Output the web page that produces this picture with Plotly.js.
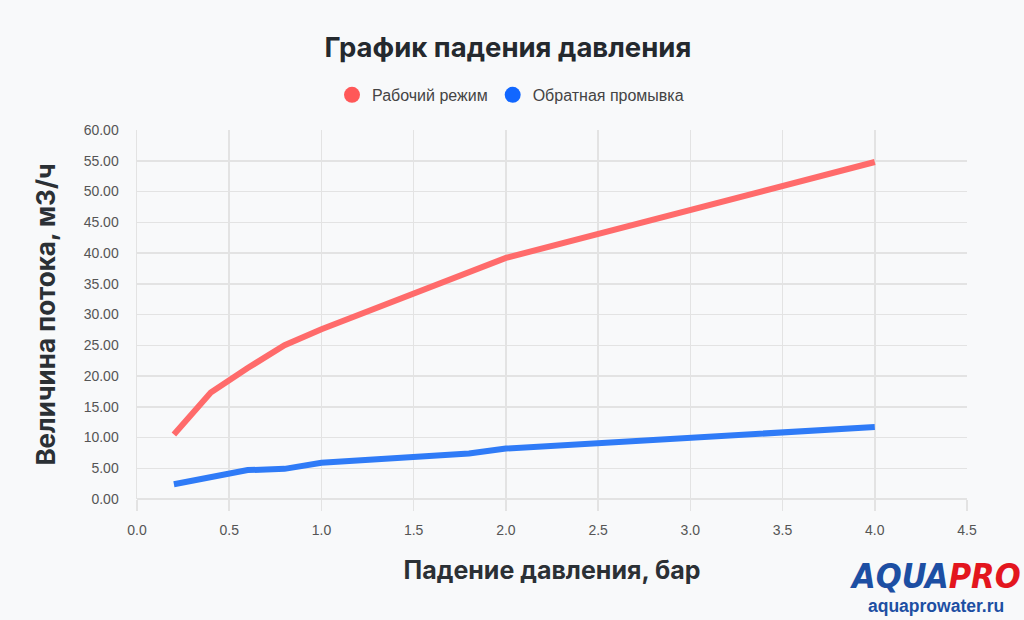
<!DOCTYPE html>
<html>
<head>
<meta charset="utf-8">
<script src="https://cdn.plot.ly/plotly-3.0.1.min.js"></script>
<style>
  html, body { margin: 0; padding: 0; background: #f8f9fa; }
  #chart { width: 1024px; height: 620px; }
</style>
</head>
<body>
<div id="chart"></div>
<script>
// pressure drop, bar
var pressure = [0.2, 0.4, 0.6, 0.8, 1.0, 1.8, 2.0, 4.0];
// flow in working mode, m3/h
var workFlow = [10.5, 17.3, 21.3, 25.0, 27.6, 37.0, 39.2, 54.8];
// flow in backwash mode, m3/h
var washFlow = [2.4, 3.6, 4.7, 4.9, 5.9, 7.4, 8.2, 11.7];

var seriesNames = ["Рабочий режим", "Обратная промывка"];
var xTicks = [0, 0.5, 1, 1.5, 2, 2.5, 3, 3.5, 4, 4.5];
var yTicks = [0, 5, 10, 15, 20, 25, 30, 35, 40, 45, 50, 55, 60];

function flow_chart(div_id) {
    var lineColors = ["#ff6b6b", "#2f7bf7"];
    var dotColors = ["#ff5858", "#1167ff"];

    var dataset = [
        {
            x: pressure,
            y: workFlow,
            type: "scatter",
            mode: "lines",
            line: { color: lineColors[0], width: 6 },
            showlegend: false,
        },
        {
            x: pressure,
            y: washFlow,
            type: "scatter",
            mode: "lines",
            line: { color: lineColors[1], width: 6 },
            showlegend: false,
        },
    ];

    // round legend dots, like the original chart
    seriesNames.forEach(function (name, i) {
        dataset.push({
            x: [null],
            y: [null],
            type: "scatter",
            mode: "markers",
            name: name,
            marker: { color: dotColors[i], size: 17 },
        });
    });

    var layout = {
        width: 1024,
        height: 620,
        paper_bgcolor: "#f8f9fa",
        plot_bgcolor: "#f8f9fa",
        margin: { l: 137, r: 57, t: 130, b: 121 },
        font: { family: "Liberation Sans, Arial, sans-serif", size: 14, color: "#555" },
        title: {
            text: "<b>График падения давления</b>",
            font: { family: "Inter, Roboto, sans-serif", size: 27.5, color: "#24292e" },
            x: 0.496,
            xref: "container",
            xanchor: "center",
            y: 0.924,
            yref: "container",
            yanchor: "middle",
        },
        legend: {
            orientation: "h",
            x: 0.45,
            xanchor: "center",
            y: 1.095,
            yanchor: "middle",
            font: { size: 16, color: "#444" },
            itemwidth: 30,
            bgcolor: "rgba(0,0,0,0)",
        },
        xaxis: {
            title: {
                text: "<b>Падение давления, бар</b>",
                font: { family: "Inter, Roboto, sans-serif", size: 25, color: "#2b3035" },
                standoff: 24,
            },
            range: [0, 4.5],
            tickvals: xTicks,
            tickformat: ".1f",
            ticks: "outside",
            ticklen: 11,
            tickcolor: "#e3e3e3",
            tickwidth: 1.5,
            showgrid: true,
            gridcolor: "#e3e3e3",
            gridwidth: 1.5,
            zeroline: false,
            showline: false,
            ticklabelstandoff: 7,
        },
        yaxis: {
            title: {
                text: "<b>Величина потока, м3/ч</b>",
                font: { family: "Inter, Roboto, sans-serif", size: 26, color: "#2b3035" },
                standoff: 20,
            },
            range: [0, 60],
            tickvals: yTicks,
            tickformat: ".2f",
            ticks: "",
            showgrid: true,
            gridcolor: "#e3e3e3",
            gridwidth: 1.5,
            zeroline: true,
            zerolinecolor: "#e3e3e3",
            zerolinewidth: 2,
            showline: true,
            linecolor: "#e3e3e3",
            linewidth: 1.5,
            ticklabelstandoff: 14,
        },
        annotations: [
            {
                text: "<b><i><span style='color:#1d4fa3'>AQUA</span><span style='color:#e3161e'>PRO</span></i></b>",
                xref: "paper",
                yref: "paper",
                x: 1.068,
                y: -0.208,
                xanchor: "right",
                yanchor: "middle",
                showarrow: false,
                font: { family: "DejaVu Sans Condensed, Liberation Sans, sans-serif", size: 34 },
            },
            {
                text: "<b>aquaprowater.ru</b>",
                xref: "paper",
                yref: "paper",
                x: 1.047,
                y: -0.29,
                xanchor: "right",
                yanchor: "middle",
                showarrow: false,
                font: { family: "Liberation Sans, sans-serif", size: 17.5, color: "#1d4fa3" },
            },
        ],
    };

    return Plotly.newPlot(div_id, dataset, layout, { displayModeBar: false, staticPlot: true });
}

flow_chart("chart");
</script>
</body>
</html>
